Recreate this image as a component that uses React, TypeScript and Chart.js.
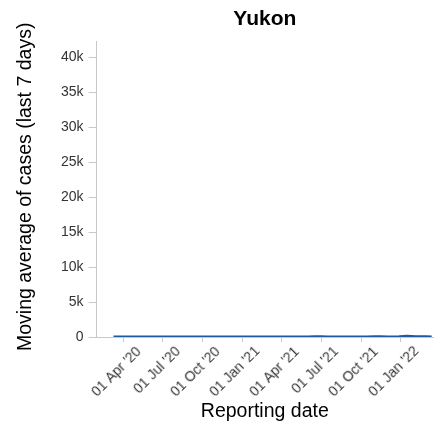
import { useEffect, useRef } from "react";
import { Chart, registerables } from "chart.js";

Chart.register(...registerables);

const title = "Yukon";
const yTitle = "Moving average of cases (last 7 days)";
const xTitle = "Reporting date";

const dates = [
  "2020-03-09", "2020-03-23", "2020-04-06", "2020-04-20", "2020-05-04", "2020-06-01",
  "2020-07-01", "2020-08-01", "2020-09-01", "2020-10-01", "2020-11-01", "2020-11-20",
  "2020-12-01", "2020-12-20", "2021-01-15", "2021-02-15", "2021-03-15", "2021-04-15",
  "2021-05-15", "2021-06-01", "2021-06-15", "2021-07-01", "2021-07-15", "2021-08-01",
  "2021-08-15", "2021-09-01", "2021-09-15", "2021-10-01", "2021-10-15", "2021-11-01",
  "2021-11-15", "2021-12-01", "2021-12-15", "2021-12-28", "2022-01-07", "2022-01-15",
  "2022-01-25", "2022-02-05", "2022-02-15", "2022-03-01", "2022-03-13",
];
const cases = [
  0, 1, 1, 0, 0, 0,
  0, 0, 0, 0, 1, 2,
  2, 1, 0, 0, 0, 0,
  1, 5, 20, 28, 15, 6,
  4, 3, 5, 8, 15, 25,
  30, 15, 8, 20, 75, 90,
  60, 40, 30, 18, 12,
];

const yTickValues = [0, 5000, 10000, 15000, 20000, 25000, 30000, 35000, 40000];
const xTickDates = [
  "2020-04-01", "2020-07-01", "2020-10-01", "2021-01-01",
  "2021-04-01", "2021-07-01", "2021-10-01", "2022-01-01",
];
const xMinDate = "2020-01-30";
const xMaxDate = "2022-03-16";
const yMax = 42300;
const monthNames = ["Jan", "Feb", "Mar", "Apr", "May", "Jun", "Jul", "Aug", "Sep", "Oct", "Nov", "Dec"];

const toMs = (s: string) => Date.parse(s + "T00:00:00Z");

function fmtDate(v: number) {
  const d = new Date(v);
  const day = String(d.getUTCDate()).padStart(2, "0");
  return `${day} ${monthNames[d.getUTCMonth()]} '${String(d.getUTCFullYear()).slice(2)}`;
}

const FONT = "Arial, 'Liberation Sans', sans-serif";

function hexToRgb(hex: string) {
  const n = parseInt(hex.slice(1), 16);
  return [(n >> 16) & 255, (n >> 8) & 255, n & 255];
}

// Render text flat into an offscreen canvas and return its alpha mask.
function textMask(text: string, size: number) {
  const font = `${size}px ${FONT}`;
  const off = document.createElement("canvas");
  const m = off.getContext("2d")!;
  m.font = font;
  const tw = m.measureText(text).width;
  off.width = Math.ceil(tw) + 4;
  off.height = Math.ceil(size * 1.4);
  const c = off.getContext("2d")!;
  c.font = font;
  c.fillStyle = "#000";
  c.textBaseline = "alphabetic";
  const baseline = Math.round(size * 1.05);
  c.fillText(text, 2, baseline);
  const img = c.getImageData(0, 0, off.width, off.height);
  const W = off.width, H = off.height;
  const a = new Float32Array(W * H);
  for (let i = 0; i < W * H; i++) a[i] = img.data[i * 4 + 3];
  return { a, W, H, tw, baseline, capTop: baseline - size * 0.716 };
}

function sample(a: Float32Array, W: number, H: number, u: number, v: number) {
  const x0 = Math.floor(u), y0 = Math.floor(v);
  const fx = u - x0, fy = v - y0;
  const g = (x: number, y: number) => (x < 0 || y < 0 || x >= W || y >= H ? 0 : a[y * W + x]);
  return (
    g(x0, y0) * (1 - fx) * (1 - fy) +
    g(x0 + 1, y0) * fx * (1 - fy) +
    g(x0, y0 + 1) * (1 - fx) * fy +
    g(x0 + 1, y0 + 1) * fx * fy
  );
}

// Rotate the mask counter-clockwise by `deg` degrees (pixel resampling, no canvas transform).
// Returns a canvas plus the position of source point (ua, va) in it.
function rotatedText(text: string, size: number, color: string, deg: number, ua: (m: any) => number, va: (m: any) => number) {
  const mk = textMask(text, size);
  const th = (-deg * Math.PI) / 180;
  const cs = Math.cos(th), sn = Math.sin(th);
  const corners = [[0, 0], [mk.W, 0], [0, mk.H], [mk.W, mk.H]].map(([u, v]) => [u * cs - v * sn, u * sn + v * cs]);
  const minX = Math.floor(Math.min(...corners.map((p) => p[0]))) - 1;
  const maxX = Math.ceil(Math.max(...corners.map((p) => p[0]))) + 1;
  const minY = Math.floor(Math.min(...corners.map((p) => p[1]))) - 1;
  const maxY = Math.ceil(Math.max(...corners.map((p) => p[1]))) + 1;
  const DW = maxX - minX, DH = maxY - minY;
  const dst = document.createElement("canvas");
  dst.width = DW;
  dst.height = DH;
  const dc = dst.getContext("2d")!;
  const out = dc.createImageData(DW, DH);
  const [r, g, b] = hexToRgb(color);
  for (let dy = 0; dy < DH; dy++) {
    for (let dx = 0; dx < DW; dx++) {
      const x = dx + 0.5 + minX, y = dy + 0.5 + minY;
      // inverse rotation
      const u = x * cs + y * sn - 0.5;
      const v = -x * sn + y * cs - 0.5;
      const al = sample(mk.a, mk.W, mk.H, u, v);
      const k = (dy * DW + dx) * 4;
      out.data[k] = r;
      out.data[k + 1] = g;
      out.data[k + 2] = b;
      out.data[k + 3] = Math.max(0, Math.min(255, Math.round(al)));
    }
  }
  dc.putImageData(out, 0, 0);
  const uA = ua(mk), vA = va(mk);
  const ax = uA * cs - vA * sn - minX;
  const ay = uA * sn + vA * cs - minY;
  return { canvas: dst, ax, ay };
}

const rotatedTextPlugin = {
  id: "rotatedText",
  afterDraw(chart: any) {
    const { ctx, chartArea } = chart;
    const xs = chart.scales.x;
    // y-axis title: anchor = centre of baseline
    const yt = rotatedText(yTitle, 19.5, "#000000", 90, (m) => 2 + m.tw / 2, (m) => m.baseline);
    ctx.drawImage(yt.canvas, Math.round(31 - yt.ax), Math.round((chartArea.top + chartArea.bottom) / 2 - 2 - yt.ay));
    // x tick labels: anchor = right end at cap height
    for (const t of xs.ticks) {
      const px = xs.getPixelForValue(t.value);
      const lt = rotatedText(fmtDate(t.value), 14, "#333333", 45, (m) => 2 + m.tw, (m) => m.capTop);
      ctx.drawImage(lt.canvas, Math.round(px + 11 - lt.ax), Math.round(chartArea.bottom + 8 - lt.ay));
    }
  },
};

export default function App() {
  const holder = useRef<HTMLDivElement | null>(null);
  useEffect(() => {
    document.body.style.margin = "0";
    const host = holder.current;
    if (!host) return;
    const canvas = document.createElement("canvas");
    canvas.width = 435;
    canvas.height = 427;
    canvas.style.display = "block";
    host.appendChild(canvas);
    const chart = new Chart(canvas, {
      type: "line",
      data: {
        datasets: [
          {
            data: dates.map((d, i) => ({ x: toMs(d), y: cases[i] })),
            borderColor: "#1d5aa6",
            borderWidth: 3,
            pointRadius: 0,
            tension: 0,
            fill: false,
          },
        ],
      },
      plugins: [rotatedTextPlugin],
      options: {
        animation: false,
        responsive: false,
        maintainAspectRatio: false,
        layout: { padding: { left: 56, right: 2, top: 0, bottom: 0 } },
        plugins: {
          legend: { display: false },
          tooltip: { enabled: false },
          title: {
            display: true,
            fullSize: false,
            text: title,
            color: "#000",
            font: { family: FONT, size: 21, weight: "bold" },
            padding: { top: 6.7, bottom: 9.1 },
          },
        },
        scales: {
          x: {
            type: "linear",
            min: toMs(xMinDate),
            max: toMs(xMaxDate),
            afterBuildTicks: (scale: any) => {
              scale.ticks = xTickDates.map((d) => ({ value: toMs(d) }));
            },
            ticks: { display: false },
            grid: { drawOnChartArea: false, drawTicks: true, tickLength: 5, color: "#c8c8c8" },
            border: { color: "#c8c8c8" },
            title: {
              display: true,
              text: xTitle,
              color: "#000",
              font: { family: FONT, size: 19.5 },
              padding: { top: 57.6, bottom: 4 },
            },
          },
          y: {
            type: "linear",
            min: 0,
            max: yMax,
            afterBuildTicks: (scale: any) => {
              scale.ticks = yTickValues.map((v) => ({ value: v }));
            },
            ticks: {
              callback: (v: any) => (Number(v) === 0 ? "0" : Number(v) / 1000 + "k"),
              color: "#333",
              font: { family: FONT, size: 14 },
              padding: 5,
            },
            grid: { drawOnChartArea: false, drawTicks: true, tickLength: 8, color: "#c8c8c8" },
            border: { color: "#c8c8c8" },
          },
        },
      },
    } as any);
    return () => {
      chart.destroy();
      canvas.remove();
    };
  }, []);
  return <div ref={holder} style={{ width: 435, height: 427, position: "relative" }} />;
}
